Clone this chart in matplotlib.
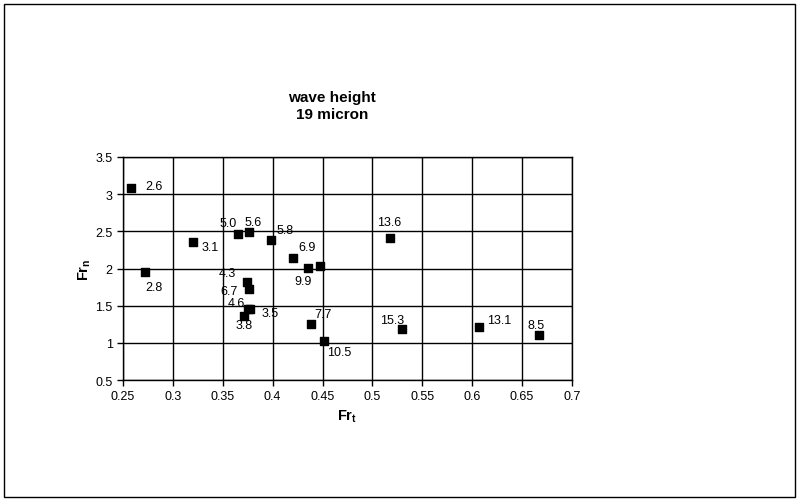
import matplotlib.pyplot as plt
from matplotlib.patches import Rectangle

plt.rcParams['font.family'] = ['Liberation Sans', 'DejaVu Sans']
plt.rcParams['mathtext.fontset'] = 'custom'
plt.rcParams['mathtext.rm'] = 'Liberation Sans'
plt.rcParams['mathtext.bf'] = 'Liberation Sans:bold'

# данные
fr_t = [0.258, 0.272, 0.320, 0.365, 0.376, 0.398, 0.420, 0.435, 0.447,
        0.374, 0.376, 0.375, 0.377, 0.371, 0.438, 0.451, 0.518, 0.530, 0.607, 0.667]
fr_n = [3.08, 1.95, 2.35, 2.47, 2.49, 2.38, 2.14, 2.01, 2.04,
        1.82, 1.72, 1.45, 1.46, 1.36, 1.26, 1.02, 2.41, 1.18, 1.21, 1.10]
labels = ['2.6', '2.8', '3.1', '5.0', '5.6', '5.8', '6.9', '9.9', '',
          '4.3', '6.7', '4.6', '3.5', '3.8', '7.7', '10.5', '13.6', '15.3', '13.1', '8.5']

x_ticks = [0.25, 0.3, 0.35, 0.4, 0.45, 0.5, 0.55, 0.6, 0.65, 0.7]
x_tick_labels = ['0.25', '0.3', '0.35', '0.4', '0.45', '0.5', '0.55', '0.6', '0.65', '0.7']
y_ticks = [0.5, 1, 1.5, 2, 2.5, 3, 3.5]
y_tick_labels = ['0.5', '1', '1.5', '2', '2.5', '3', '3.5']

# смещения подписей (в пикселях, вниз = положительно)
offsets = [(23, -2), (9, 15), (17, 5), (-10, -11), (4, -10), (14, -10), (14, -11), (-5, 13), (0, 0),
           (-19, -9), (-20, 2), (-11, -6), (20, 4), (0, 9), (12, -10), (16, 11), (-1, -16),
           (-10, -9), (20, -7), (-3, -10)]

fig = plt.figure(figsize=(7.99, 5.02), dpi=100)
ax = fig.add_axes([123 / 799, 1 - 381 / 502, 449 / 799, 223 / 502])

ax.scatter(fr_t, fr_n, marker='s', s=26, color='black', zorder=3)
for x, y, lab, (dx, dy) in zip(fr_t, fr_n, labels, offsets):
    if lab:
        ax.annotate(lab, (x, y), xytext=(dx * 0.72, -dy * 0.72), textcoords='offset points',
                    ha='center', va='center', fontsize=9)

ax.set_xlim(0.25, 0.7)
ax.set_ylim(0.5, 3.5)
ax.set_xticks(x_ticks)
ax.set_xticklabels(x_tick_labels)
ax.set_yticks(y_ticks)
ax.set_yticklabels(y_tick_labels)
ax.tick_params(labelsize=9, length=4, width=1, direction='out')
ax.grid(True, color='black', linewidth=1)
ax.set_axisbelow(True)
for s in ax.spines.values():
    s.set_linewidth(1)

ax.set_xlabel(r'$\mathbf{Fr_t}$', fontsize=10.5, labelpad=4)
ax.set_ylabel(r'$\mathbf{Fr_n}$', fontsize=10.5, labelpad=2)
fig.text(332 / 799, 1 - 122 / 502, 'wave height\n19 micron', ha='center', va='bottom',
         fontsize=11, fontweight='bold', linespacing=1.25)

fig.patches.append(Rectangle((4 / 799, 4 / 502), 791 / 799, 493 / 502, transform=fig.transFigure,
                             fill=False, edgecolor='black', linewidth=1))

fig.savefig('out.png', dpi=100)
